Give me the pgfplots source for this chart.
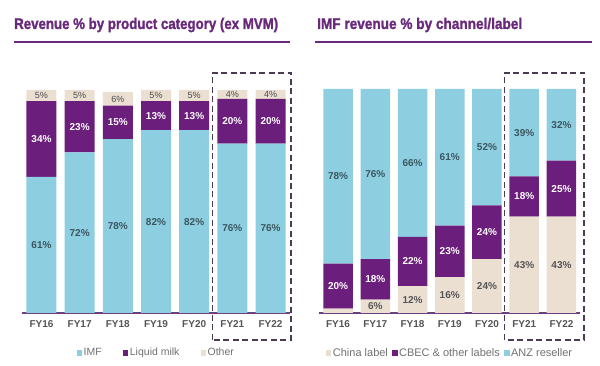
\documentclass[border=0pt]{standalone}
\usepackage{fontspec}
\setmainfont{Liberation Sans}
\newfontfamily\titlefont[FakeBold=1.6]{Liberation Sans}
\usepackage{graphicx}
\usepackage{pgfplots}
\pgfplotsset{compat=1.18}
\definecolor{imfblue}{HTML}{8DCFE0}
\definecolor{milkpurple}{HTML}{6B1E7B}
\definecolor{otherbeige}{HTML}{EBDFD2}
\definecolor{titlepurple}{HTML}{6A2A7C}
\definecolor{axpurple}{HTML}{6E3F80}
\definecolor{boxcol}{HTML}{4A3A52}
\definecolor{leggray}{HTML}{707070}
\definecolor{tickgray}{HTML}{555555}
\definecolor{slate}{HTML}{3B5560}
\definecolor{darkg}{HTML}{4A4A4A}
\pgfplotsset{
  geom/.style={
    scale only axis,
    enlargelimits=false,
    clip=false,
    xmin=-0.5, xmax=6.5, ymin=0, ymax=100,
  },
  mybars/.style={
    geom,
    ybar stacked,
    axis x line=bottom, axis y line=none,
    x axis line style={-, draw=axpurple, line width=1.3pt},
    xtick={0,...,6},
    xticklabels={FY16,FY17,FY18,FY19,FY20,FY21,FY22},
    major tick length=0pt,
    xticklabel style={font=\fontsize{10}{12}\selectfont\bfseries, text=tickgray, yshift=-4pt},
    ytick=\empty,
    legend columns=3,
    legend cell align=left,
  },
  labels/.style={
    geom,
    hide axis,
    point meta=explicit symbolic,
  },
  lab/.style={only marks, mark=none, nodes near coords,
    nodes near coords style={anchor=center, #1}},
}
\begin{document}
\begin{tikzpicture}
\useasboundingbox (0pt,0pt) rectangle (600pt,366pt);
% Titles
\node[anchor=base west, inner sep=0pt, text=titlepurple] at (14pt,337pt)
  {\resizebox{264pt}{\height}{\fontsize{15.4}{18}\selectfont\titlefont\bfseries Revenue \% by product category (ex MVM)}};
\node[anchor=base west, inner sep=0pt, text=titlepurple] at (317pt,337pt)
  {\resizebox{205pt}{\height}{\fontsize{15.4}{18}\selectfont\titlefont\bfseries IMF revenue \% by channel/label}};
\draw[line width=1.8pt, titlepurple] (14pt,324pt) -- (290pt,324pt);
\draw[line width=1.8pt, titlepurple] (315pt,324pt) -- (592pt,324pt);

% ---------- Left chart ----------
\begin{axis}[mybars,
  at={(22.4pt,53pt)}, anchor=south west,
  width=267.2pt, height=223pt,
  bar width=30pt,
  legend style={at={(0.5,-0.179)}, anchor=center, draw=none, fill=none,
    font=\fontsize{10.5}{12}\selectfont, text=leggray,
    nodes={inner xsep=1.5pt},
    /tikz/every even column/.append style={column sep=19.5pt}},
]
\addplot[fill=imfblue, draw=none,
  legend image code/.code={\fill[imfblue] (0pt,-2.8pt) rectangle (5.6pt,2.8pt);}]
  coordinates {(0,61) (1,72) (2,78) (3,82) (4,82) (5,76) (6,76)};
\addplot[fill=milkpurple, draw=none,
  legend image code/.code={\fill[milkpurple] (0pt,-2.8pt) rectangle (5.6pt,2.8pt);}]
  coordinates {(0,34) (1,23) (2,15) (3,13) (4,13) (5,20) (6,20)};
\addplot[fill=otherbeige, draw=none,
  legend image code/.code={\fill[otherbeige] (0pt,-2.8pt) rectangle (5.6pt,2.8pt);}]
  coordinates {(0,5) (1,5) (2,6) (3,5) (4,5) (5,4) (6,4)};
\legend{IMF, Liquid milk, Other}
\end{axis}
% segment labels (placed at the middle of each segment)
\begin{axis}[labels, at={(22.4pt,53pt)}, anchor=south west, width=267.2pt, height=223pt]
\addplot[lab={font=\fontsize{10}{12}\selectfont\bfseries, text=slate}]
  coordinates {(0,30.5) [61\%] (1,36) [72\%] (2,39) [78\%] (3,41) [82\%] (4,41) [82\%] (5,38) [76\%] (6,38) [76\%]};
\addplot[lab={font=\fontsize{10}{12}\selectfont\bfseries, text=white}]
  coordinates {(0,78) [34\%] (1,83.5) [23\%] (2,85.5) [15\%] (3,88.5) [13\%] (4,88.5) [13\%] (5,86) [20\%] (6,86) [20\%]};
\addplot[lab={font=\fontsize{9}{10}\selectfont, text=darkg}]
  coordinates {(0,97.5) [5\%] (1,97.5) [5\%] (2,96) [6\%] (3,97.5) [5\%] (4,97.5) [5\%] (5,98) [4\%] (6,98) [4\%]};
\end{axis}

% ---------- Right chart ----------
\begin{axis}[mybars,
  at={(319.4pt,53pt)}, anchor=south west,
  width=260.7pt, height=224pt,
  bar width=29.5pt,
  legend style={at={(0.5,-0.179)}, anchor=center, draw=none, fill=none,
    font=\fontsize{11}{12}\selectfont, text=leggray,
    nodes={inner xsep=1.5pt},
    /tikz/every even column/.append style={column sep=2.5pt}},
]
\addplot[fill=otherbeige, draw=none,
  legend image code/.code={\fill[otherbeige] (0pt,-2.8pt) rectangle (5.6pt,2.8pt);}]
  coordinates {(0,2) (1,6) (2,12) (3,16) (4,24) (5,43) (6,43)};
\addplot[fill=milkpurple, draw=none,
  legend image code/.code={\fill[milkpurple] (0pt,-2.8pt) rectangle (5.6pt,2.8pt);}]
  coordinates {(0,20) (1,18) (2,22) (3,23) (4,24) (5,18) (6,25)};
\addplot[fill=imfblue, draw=none,
  legend image code/.code={\fill[imfblue] (0pt,-2.8pt) rectangle (5.6pt,2.8pt);}]
  coordinates {(0,78) (1,76) (2,66) (3,61) (4,52) (5,39) (6,32)};
\legend{China label, CBEC \& other labels, ANZ reseller}
\end{axis}
\begin{axis}[labels, at={(319.4pt,53pt)}, anchor=south west, width=260.7pt, height=224pt]
\addplot[lab={font=\fontsize{10}{12}\selectfont\bfseries, text=tickgray}]
  coordinates {(1,3) [6\%] (2,6) [12\%] (3,8) [16\%] (4,12) [24\%] (5,21.5) [43\%] (6,21.5) [43\%]};
\addplot[lab={font=\fontsize{10}{12}\selectfont\bfseries, text=white}]
  coordinates {(0,12) [20\%] (1,15) [18\%] (2,23) [22\%] (3,27.5) [23\%] (4,36) [24\%] (5,52) [18\%] (6,55.5) [25\%]};
\addplot[lab={font=\fontsize{10}{12}\selectfont\bfseries, text=slate}]
  coordinates {(0,61) [78\%] (1,62) [76\%] (2,67) [66\%] (3,69.5) [61\%] (4,74) [52\%] (5,80.5) [39\%] (6,84) [32\%]};
\end{axis}

% Dashed highlight boxes
\draw[boxcol, line width=1.8pt, dash pattern=on 6pt off 3.5pt] (212.5pt,26pt) rectangle (291pt,293pt);
\draw[boxcol, line width=1.8pt, dash pattern=on 6pt off 3.5pt] (504.5pt,26pt) rectangle (584pt,293pt);
\end{tikzpicture}
\end{document}
